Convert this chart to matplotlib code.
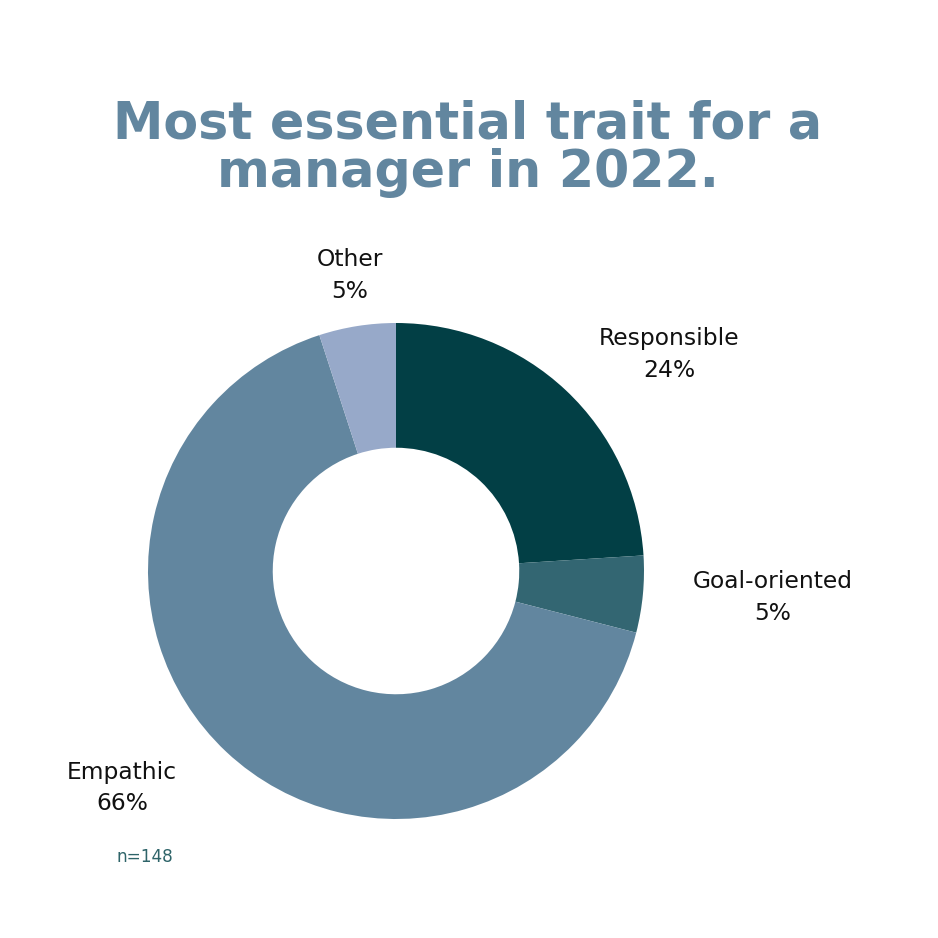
import matplotlib
matplotlib.use("Agg")
import matplotlib.pyplot as plt

categories = ["Responsible", "Goal-oriented", "Empathic", "Other"]
values = [24, 5, 66, 5]
colors = ["#023F45", "#336672", "#62869F", "#97A9C9"]
title = "Most essential trait for a\nmanager in 2022."
note = "n=148"

W = 938
fig = plt.figure(figsize=(9.38, 9.38), dpi=100)
fig.patch.set_facecolor("white")
ax = fig.add_axes([0, 0, 1, 1])
ax.set_xlim(0, W)
ax.set_ylim(0, W)
ax.set_aspect("equal")
ax.axis("off")

cx, cy, r = 396, W - 571, 248
ax.pie(values, colors=colors, startangle=90, counterclock=False,
       center=(cx, cy), radius=r, wedgeprops=dict(width=r * 0.503, linewidth=0))
ax.set_xlim(0, W)
ax.set_ylim(0, W)

def px(x, y):
    return x / W, 1 - y / W

fig.text(*px(468, 187), title, ha="center", va="baseline", color="#62869F",
         fontsize=36.5, fontweight="bold", family="DejaVu Sans", linespacing=0.95)

label_pos = [(669, 354), (773, 597), (122, 788), (350, 276)]
for cat, v, (x, y) in zip(categories, values, label_pos):
    fig.text(*px(x, y), f"{cat}\n{v}%", ha="center", va="center", color="#111111",
             fontsize=16.8, family="DejaVu Sans", linespacing=1.5)

fig.text(*px(145, 857), note, ha="center", va="center", color="#2E6469",
         fontsize=12.2, family="DejaVu Sans")

fig.savefig("out.png", dpi=100, facecolor="white")
